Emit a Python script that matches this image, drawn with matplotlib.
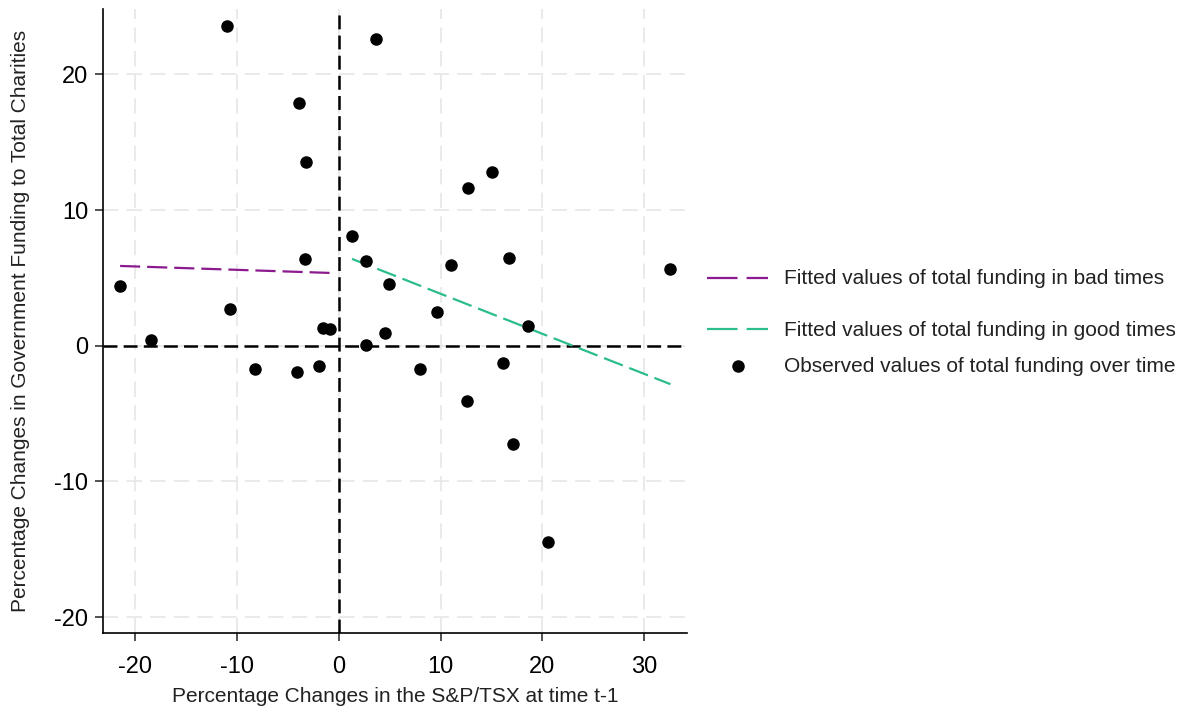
import numpy as np
import matplotlib
matplotlib.use("Agg")
import matplotlib.pyplot as plt
from matplotlib.lines import Line2D

plt.rcParams['font.family'] = ['Liberation Sans', 'DejaVu Sans']
plt.rcParams['lines.scale_dashes'] = False
plt.rcParams['axes.unicode_minus'] = False

# lagged S&P/TSX change (x) and change in government funding (y), in %
tsx_change = [-21.5, -18.5, -10.98, -10.65, -8.2, -4.07, -3.9, -3.27, -3.37, -1.93, -1.6, -0.91,
              1.3, 2.7, 3.68, 4.9, 4.55, 2.65, 12.66, 15.08, 11.05, 16.7, 9.64, 18.6, 32.6,
              8.0, 12.6, 16.15, 17.1, 20.6]
funding_change = [4.4, 0.42, 23.6, 2.69, -1.74, -1.92, 17.9, 13.56, 6.38, -1.48, 1.33, 1.21,
                  8.1, 6.25, 22.6, 4.58, 0.91, 0.05, 11.6, 12.77, 5.93, 6.5, 2.46, 1.48, 5.64,
                  -1.74, -4.08, -1.3, -7.28, -14.5]

x_ticks = [-20, -10, 0, 10, 20, 30]
y_ticks = [-20, -10, 0, 10, 20]

legend_labels = ["Fitted values of total funding in bad times",
                 "Fitted values of total funding in good times",
                 "Observed values of total funding over time"]

x = np.array(tsx_change)
y = np.array(funding_change)
bad = x < 0
good = x > 0

W, H = 1184, 711
fig = plt.figure(figsize=(W / 100, H / 100), dpi=100)
ax = fig.add_axes([103.3 / W, 1 - 633.3 / H, (686.7 - 103.3) / W, (633.3 - 9.3) / H])

# linear fits for each regime
def fit_line(xs, ys):
    b, a = np.polyfit(xs, ys, 1)
    xx = np.array([xs.min(), xs.max()])
    return xx, a + b * xx

purple = '#8b1a8f'
green = '#2bbd8e'

ax.grid(True, color='#e6e6e6', linestyle=(0, (11, 6)), linewidth=1.2)
ax.set_axisbelow(True)
ax.axvline(0, color='black', linewidth=1.8, linestyle=(0, (10, 4.5)), zorder=2)
ax.axhline(0, color='black', linewidth=1.8, linestyle=(0, (10, 4.5)), zorder=2)

bx, by = fit_line(x[bad], y[bad])
gx, gy = fit_line(x[good], y[good])
ax.plot(bx, by, color=purple, linewidth=1.6, linestyle=(0, (14.5, 5)), zorder=3)
ax.plot(gx, gy, color=green, linewidth=1.6, linestyle=(0, (14.5, 5)), zorder=3)
ax.plot(x, y, 'o', color='black', markersize=8, zorder=4)

ax.set_xlim(-23.15, 34.2)
ax.set_ylim(-21.2, 24.8)
ax.set_xticks(x_ticks)
ax.set_yticks(y_ticks)
for s in ['top', 'right']:
    ax.spines[s].set_visible(False)
for s in ['left', 'bottom']:
    ax.spines[s].set_linewidth(1.2)
ax.tick_params(direction='out', length=6, width=1.1, labelsize=17, color='#222222')
ax.tick_params(axis='x', pad=10)
ax.tick_params(axis='y', pad=5)

ax.set_xlabel("Percentage Changes in the S&P/TSX at time t-1", fontsize=15, labelpad=7, color='#222222')
ax.set_ylabel("Percentage Changes in Government Funding to Total Charities", fontsize=15,
              labelpad=17.5, color='#222222')

# legend to the right of the plot
def fx(px):
    return px / W

def fy(py):
    return 1 - py / H

for ypx, col in [(278.3, purple), (329.3, green)]:
    fig.add_artist(Line2D([fx(707), fx(768)], [fy(ypx), fy(ypx)], transform=fig.transFigure,
                          color=col, linewidth=1.6, linestyle=(0, (22, 6.5))))
fig.add_artist(Line2D([fx(738.3)], [fy(365.7)], transform=fig.transFigure,
                      marker='o', color='black', markersize=8, linestyle='none'))
for ypx, lab in zip([279, 330, 367], legend_labels):
    fig.text(fx(784), fy(ypx), lab, fontsize=15, va='center', ha='left', color='#222222')

fig.savefig("out.png", dpi=100)
